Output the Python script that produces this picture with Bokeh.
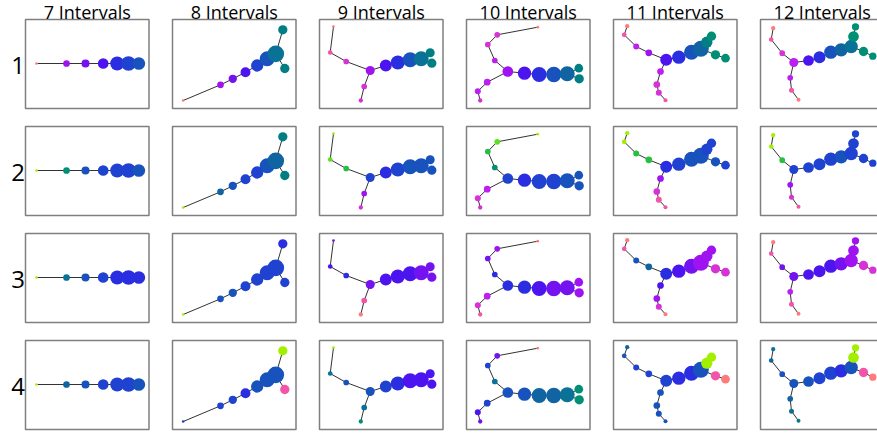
from bokeh.plotting import figure
from bokeh.models import Range1d, ColumnDataSource
from bokeh.embed import file_html
from bokeh.resources import INLINE
from bokeh.core.properties import value

# ---------------- data ----------------
TITLES = ["7 Intervals", "8 Intervals", "9 Intervals", "10 Intervals", "11 Intervals", "12 Intervals"]
ROW_LABELS = ["1", "2", "3", "4"]

# colours
SAL = "#ff7b7b"; PNK = "#f255a8"; MAG = "#d632d6"; PUM = "#bd1ff0"; PUR = "#a012f0"
VIO = "#7412f0"; IND = "#4c14ef"; BLU = "#2a2ee0"; RBL = "#1f42d0"; MBL = "#1752bd"
SBL = "#1064a2"; TBL = "#0a7296"; TEA = "#017e84"; TGR = "#008f74"; GRN = "#22c23e"
LGR = "#5ee01e"; LIM = "#a2f000"

# 7 intervals graph
C7_X = [11, 41, 60, 77.7, 91.7, 103, 113.3]
C7_Y = [44, 44, 44, 44, 44, 44, 44]
C7_SIZE = [2.7, 6.7, 8, 10.7, 14, 14.7, 12.7]
C7_EDGES = [(0, 1), (1, 2), (2, 3), (3, 4), (4, 5), (5, 6)]
C7_COLORS = [
    [SAL, PUR, VIO, IND, BLU, RBL, MBL],
    [LIM, TGR, MBL, RBL, RBL, RBL, MBL],
    [LIM, TBL, MBL, RBL, BLU, BLU, BLU],
    [LIM, SBL, MBL, RBL, RBL, RBL, MBL],
]

# 8 intervals graph
C8_X = [10.7, 48, 60.3, 73, 84.7, 94.7, 103.3, 110.3, 112.3]
C8_Y = [81, 65.3, 59.3, 52.7, 46, 39.3, 34.3, 10.3, 49]
C8_SIZE = [2.7, 6.7, 8.3, 10, 12.3, 15, 16.7, 9.3, 9.3]
C8_EDGES = [(0, 1), (1, 2), (2, 3), (3, 4), (4, 5), (5, 6), (6, 7), (6, 8)]
C8_COLORS = [
    [SAL, PUR, VIO, IND, RBL, MBL, TBL, TEA, TEA],
    [LIM, SBL, MBL, RBL, RBL, MBL, SBL, TEA, TEA],
    [LIM, MBL, MBL, RBL, RBL, RBL, RBL, BLU, RBL],
    [RBL, RBL, RBL, BLU, MBL, MBL, MBL, LIM, PNK],
]

# 9 intervals graph
C9_X = [14, 10.7, 26.7, 50.7, 44.7, 41.3, 66.3, 78.3, 90.7, 101.7, 110.7, 112.3]
C9_Y = [7, 33, 42, 51, 67, 81, 46, 43, 40.3, 39.3, 33.3, 43.7]
C9_SIZE = [2.7, 4.7, 5.7, 9, 5.7, 4.3, 12, 14, 15, 15, 9, 9.3]
C9_EDGES = [(0, 1), (1, 2), (2, 3), (3, 4), (4, 5), (3, 6), (6, 7), (7, 8), (8, 9), (9, 10), (9, 11)]
C9_COLORS = [
    [SAL, PNK, MAG, PUR, MAG, MAG, IND, BLU, MBL, TBL, TEA, TEA],
    [LIM, LGR, GRN, RBL, PUR, MAG, BLU, RBL, MBL, MBL, MBL, MBL],
    [VIO, IND, BLU, VIO, PNK, SAL, IND, IND, IND, VIO, VIO, VIO],
    [LIM, TBL, MBL, MBL, TBL, TGR, RBL, BLU, IND, IND, IND, IND],
]

# 10 intervals graph
C10_X = [71.3, 30.7, 21.3, 28.3, 41.3, 20.7, 11.3, 13.7, 58, 72.7, 87.3, 100.7, 112.3, 112.7]
C10_Y = [7.7, 15.3, 25, 41, 52, 62.7, 71.7, 81, 53.7, 55, 55, 54.3, 48.7, 59.3]
C10_SIZE = [2.7, 5.7, 5.7, 5.7, 10.7, 6.7, 6, 4.3, 13.3, 15, 15.3, 15, 8.7, 9.3]
C10_EDGES = [(0, 1), (1, 2), (2, 3), (3, 4), (4, 5), (5, 6), (6, 7), (4, 8), (8, 9), (9, 10),
             (10, 11), (11, 12), (11, 13)]
C10_COLORS = [
    [SAL, MAG, MAG, PUM, PUR, PUM, PUM, MAG, IND, BLU, MBL, SBL, TEA, TEA],
    [LIM, LGR, GRN, TGR, RBL, PUM, MAG, MAG, BLU, RBL, RBL, MBL, MBL, MBL],
    [SAL, PUR, VIO, BLU, BLU, PUM, MAG, PNK, BLU, IND, VIO, VIO, PUR, PUR],
    [SAL, VIO, RBL, TBL, MBL, RBL, IND, VIO, MBL, SBL, SBL, TBL, TGR, TGR],
]

# 11 intervals graph
C11_X = [13.7, 10.7, 22.7, 35.3, 52.7, 47, 43.3, 45.3, 52, 65.3, 78, 87.3, 93.3, 98, 102, 112]
C11_Y = [6.7, 15.3, 27, 33.3, 40.3, 52, 65, 73.3, 80.7, 37.7, 32.7, 29.3, 22.7, 16.7, 35.3, 38.7]
C11_SIZE = [4.3, 4.7, 6, 6.7, 12, 6.7, 6.7, 6, 4, 13.3, 15, 16, 11.3, 9.3, 9.3, 8.7]
C11_EDGES = [(0, 1), (1, 2), (2, 3), (3, 4), (4, 5), (5, 6), (6, 7), (7, 8), (4, 9), (9, 10),
             (10, 11), (11, 12), (12, 13), (11, 14), (14, 15)]
C11_COLORS = [
    [SAL, PNK, PUM, PUR, IND, PUM, MAG, MAG, PNK, BLU, MBL, SBL, TEA, TGR, TGR, TGR],
    [LIM, LIM, GRN, GRN, BLU, PUR, MAG, PNK, PNK, RBL, MBL, MBL, RBL, RBL, MBL, RBL],
    [SAL, PNK, MBL, SBL, BLU, IND, PUR, MAG, SAL, IND, VIO, PUR, PUR, PUR, MAG, MAG],
    [SBL, MBL, RBL, RBL, RBL, MBL, MBL, MBL, MBL, BLU, BLU, MBL, LIM, LIM, PNK, SAL],
]

# 12 intervals graph
C12_X = [12.7, 10.7, 21.7, 33.3, 29.7, 31, 38, 48, 59, 70.3, 80.7, 90.7, 93, 95, 103, 112.3]
C12_Y = [8.7, 20, 33.7, 43, 58.3, 70.7, 80.3, 41, 37.7, 32.7, 30.3, 27, 17, 7.3, 32, 36.7]
C12_SIZE = [4.3, 4.7, 5.7, 9, 5.7, 5, 4, 10.7, 12, 13.3, 13.3, 13.3, 10.7, 7.3, 9.3, 7.3]
C12_EDGES = [(0, 1), (1, 2), (2, 3), (3, 4), (4, 5), (5, 6), (3, 7), (7, 8), (8, 9), (9, 10),
             (10, 11), (11, 12), (12, 13), (11, 14), (14, 15)]
C12_COLORS = [
    [SAL, PNK, MAG, PUM, PUM, PNK, SAL, IND, BLU, MBL, SBL, TBL, TGR, TGR, TGR, TGR],
    [LIM, LIM, GRN, RBL, PUR, MAG, PNK, RBL, RBL, RBL, MBL, RBL, RBL, RBL, RBL, RBL],
    [SAL, PNK, VIO, VIO, PUM, PNK, SAL, IND, IND, IND, VIO, PUR, PUR, PUR, MAG, MAG],
    [TBL, SBL, MBL, MBL, SBL, TBL, TEA, MBL, RBL, RBL, BLU, MBL, LIM, LIM, PNK, SAL],
]

GRAPHS = [
    (C7_X, C7_Y, C7_SIZE, C7_EDGES, C7_COLORS),
    (C8_X, C8_Y, C8_SIZE, C8_EDGES, C8_COLORS),
    (C9_X, C9_Y, C9_SIZE, C9_EDGES, C9_COLORS),
    (C10_X, C10_Y, C10_SIZE, C10_EDGES, C10_COLORS),
    (C11_X, C11_Y, C11_SIZE, C11_EDGES, C11_COLORS),
    (C12_X, C12_Y, C12_SIZE, C12_EDGES, C12_COLORS),
]

# ---------------- layout ----------------
X0, DX, PW = 25, 147, 123.5
Y0, DY, PH = 19, 107, 89

p = figure(width=877, height=433, x_range=Range1d(0, 877), y_range=Range1d(433, 0),
           output_backend="svg", toolbar_location=None, min_border=0,
           x_axis_location=None, y_axis_location=None)
p.grid.visible = False
p.outline_line_color = None
p.background_fill_color = "white"
p.border_fill_color = "white"

pl, pr, pt, pb = [], [], [], []
exs, eys = [], []
nx, ny, ns, nc = [], [], [], []
for c, (gx, gy, gs, ge, gcols) in enumerate(GRAPHS):
    for r in range(4):
        ox = X0 + c * DX
        oy = Y0 + r * DY
        pl.append(ox); pr.append(ox + PW); pt.append(oy); pb.append(oy + PH)
        for a, b in ge:
            exs.append([ox + gx[a], ox + gx[b]])
            eys.append([oy + gy[a], oy + gy[b]])
        for i in range(len(gx)):
            nx.append(ox + gx[i]); ny.append(oy + gy[i])
            ns.append(gs[i]); nc.append(gcols[r][i])

p.quad(left=pl, right=pr, top=pt, bottom=pb, fill_color=None,
       line_color="#7f7f7f", line_width=1.5)
p.multi_line(xs=exs, ys=eys, line_color="#333333", line_width=1)
p.scatter(source=ColumnDataSource(dict(x=nx, y=ny, s=ns, c=nc)), x="x", y="y",
          size="s", fill_color="c", line_color=None, fill_alpha=1.0)

p.text(x=[X0 + c * DX + PW / 2 for c in range(6)], y=[11.5] * 6, text=TITLES,
       text_align="center", text_baseline="middle",
       text_font=value("Open Sans"), text_font_size="18px", text_color="black")
p.text(x=[17.5] * 4, y=[Y0 + r * DY + 45.5 for r in range(4)], text=ROW_LABELS,
       text_align="center", text_baseline="middle",
       text_font=value("Open Sans"), text_font_size="24px", text_color="black")

open("out.html", "w").write(file_html(p, INLINE))
